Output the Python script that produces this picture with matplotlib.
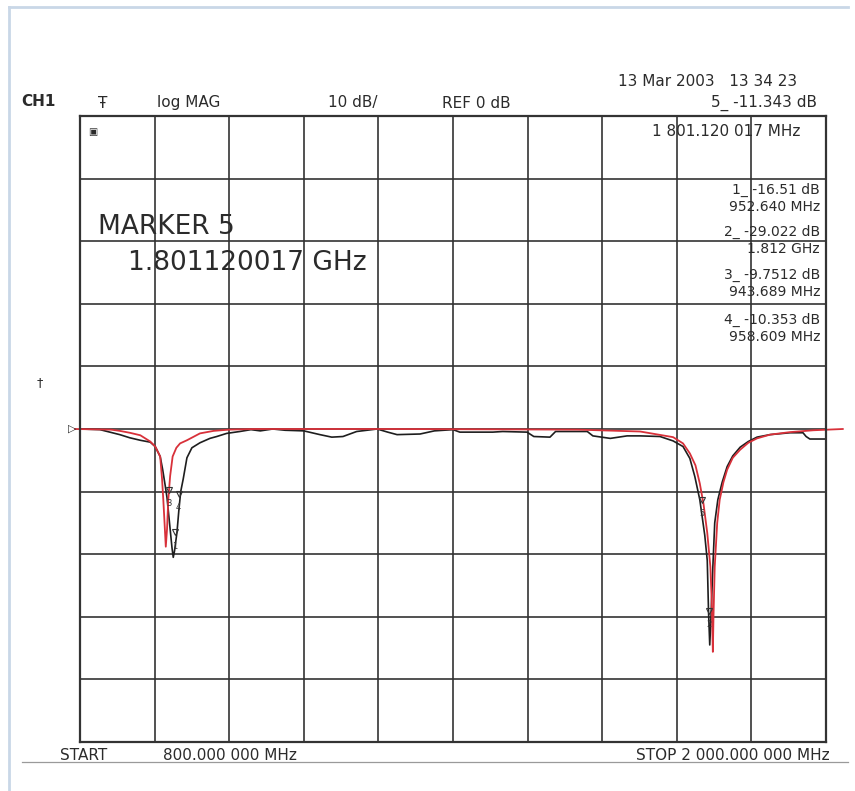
import numpy as np
import matplotlib.pyplot as plt
from matplotlib.lines import Line2D

W, H = 855, 791

# measured trace (black), MHz / dB
meas_mhz = [800, 832, 848, 864, 880, 897, 913, 921, 929, 933, 937, 940, 945, 948, 950,
            952, 956, 959, 962, 966, 972, 980, 993, 1009, 1020, 1036, 1057, 1075, 1090,
            1110, 1130, 1160, 1186, 1205, 1223, 1245, 1278, 1295, 1310, 1347, 1370, 1400,
            1411, 1440, 1464, 1480, 1519, 1530, 1556, 1565, 1616, 1625, 1653, 1680, 1701,
            1733, 1754, 1770, 1781, 1789, 1797, 1805, 1809, 1811, 1813, 1815, 1818, 1821,
            1826, 1833, 1841, 1850, 1862, 1875, 1889, 1910, 1942, 1963, 1968, 1974, 2000]
meas_db = [0, -0.1, -0.5, -0.9, -1.4, -1.8, -2.1, -2.8, -4.4, -6.5, -9, -11, -16, -19, -20.5,
           -19.5, -16.5, -13, -10, -8, -4.6, -3, -2.2, -1.5, -1.2, -0.7, -0.4, -0.1, -0.3,
           0, -0.2, -0.3, -0.9, -1.3, -1.2, -0.4, 0, -0.5, -0.9, -0.8, -0.3, -0.1,
           -0.5, -0.5, -0.5, -0.4, -0.5, -1.2, -1.3, -0.4, -0.4, -1.1, -1.5, -1.1, -1.1,
           -1.2, -1.9, -2.8, -4.7, -7.6, -11.3, -17, -21, -29, -34.5, -30, -22, -15,
           -11.3, -8.5, -6, -4.3, -2.9, -2, -1.3, -0.9, -0.6, -0.6, -1.2, -1.6, -1.6]

# simulated trace (red)
sim_mhz = [792, 850, 864, 880, 897, 913, 921, 929, 932, 934, 936, 938, 940, 942, 945, 949,
           955, 961, 972, 993, 1015, 1040, 1080, 1300, 1600, 1701, 1754, 1770, 1781, 1790,
           1797, 1803, 1809, 1814, 1816, 1818, 1819, 1821, 1825, 1829, 1835, 1841, 1850,
           1862, 1875, 1889, 1910, 1942, 1980, 2027]
sim_db = [0, -0.1, -0.3, -0.6, -1.0, -2.0, -2.8, -4.4, -8, -11.3, -15, -18.8, -16, -11.3,
          -7.5, -4.4, -3, -2.3, -1.8, -0.7, -0.3, -0.1, 0, 0, -0.1, -0.4, -1.3, -2.3, -3.9,
          -5.8, -8.7, -12, -16.6, -22, -27, -35.6, -30, -22, -15, -11.3, -8.5, -6.5, -4.6,
          -3.3, -2.2, -1.5, -0.9, -0.5, -0.2, 0]

mark_num = ['1', '2', '3', '4', '5']
mark_mhz = [952.640, 1812.0, 943.689, 958.609, 1801.120]
mark_db = [-16.51, -29.022, -9.7512, -10.353, -11.343]

mark_lines = ['1_ -16.51 dB', '952.640 MHz', '2_ -29.022 dB', '1.812 GHz',
              '3_ -9.7512 dB', '943.689 MHz', '4_ -10.353 dB', '958.609 MHz']
mark_line_y = [190, 207, 232, 249, 275, 292, 320, 337]

f_start, f_stop = 800, 2000
ref_db, db_div = 0, 10

txt = '#2b2b2b'
fig = plt.figure(figsize=(W / 100, H / 100), dpi=100)


def put(x, y, s, size=11, ha='left', **kw):
    fig.text(x / W, 1 - y / H, s, fontsize=size, ha=ha, va='center', color=txt,
             family='DejaVu Sans', **kw)


# outer frame of the screenshot
fig.add_artist(Line2D([9 / W, 9 / W], [0, 1 - 7 / H], color='#c9d7e7', lw=2, transform=fig.transFigure))
fig.add_artist(Line2D([9 / W, 848 / W], [1 - 7 / H, 1 - 7 / H], color='#c9d7e7', lw=2, transform=fig.transFigure))
fig.add_artist(Line2D([22 / W, 848 / W], [1 - 762 / H, 1 - 762 / H], color='#9a9a9a', lw=0.9, transform=fig.transFigure))

ax = fig.add_axes([80 / W, 1 - 742 / H, 746 / W, 626 / H])
ax.set_xlim(f_start, f_stop)
ax.set_ylim(ref_db - 5 * db_div, ref_db + 5 * db_div)
ax.set_xticks(np.linspace(f_start, f_stop, 11))
ax.set_yticks(np.arange(ref_db - 5 * db_div, ref_db + 5 * db_div + 1, db_div))
ax.grid(color='#333333', lw=1.2)
ax.tick_params(length=0, labelbottom=False, labelleft=False)
for s in ax.spines.values():
    s.set_color('#333333')
    s.set_linewidth(1.6)

ax.plot(meas_mhz, meas_db, color='#1e1e1e', lw=1.2)
ax.plot(sim_mhz, sim_db, color='#d8313a', lw=1.3, clip_on=False)

for n, f, d in zip(mark_num, mark_mhz, mark_db):
    ax.plot(f, d, marker='v', ms=4, mfc='none', mec='#333333', mew=0.8)
    ax.text(f, d - 2.2, n, fontsize=6, color='#333333', ha='center', va='center')

# header
put(21, 102, 'CH1', 11, fontweight='bold')
put(98, 103, 'Ŧ', 11)
put(157, 102, 'log MAG', 11)
put(328, 102, '10 dB/', 11)
put(442, 103, 'REF 0 dB', 11)
put(797, 81, '13 Mar 2003   13 34 23', 11, ha='right')
put(817, 103, '5_ -11.343 dB', 11, ha='right')
put(800, 131, '1 801.120 017 MHz', 11, ha='right')
put(88, 132, '▣', 7)

put(98, 227, 'MARKER 5', 19)
put(128, 263, '1.801120017 GHz', 19)

for s, y in zip(mark_lines, mark_line_y):
    put(820, y, s, 10, ha='right')

put(72, 429, '▷', 8, ha='center')
put(40, 383, '†', 9, ha='center')

put(60, 755, 'START', 11)
put(163, 755, '800.000 000 MHz', 11)
put(830, 755, 'STOP 2 000.000 000 MHz', 11, ha='right')

fig.savefig('out.png', dpi=100)
